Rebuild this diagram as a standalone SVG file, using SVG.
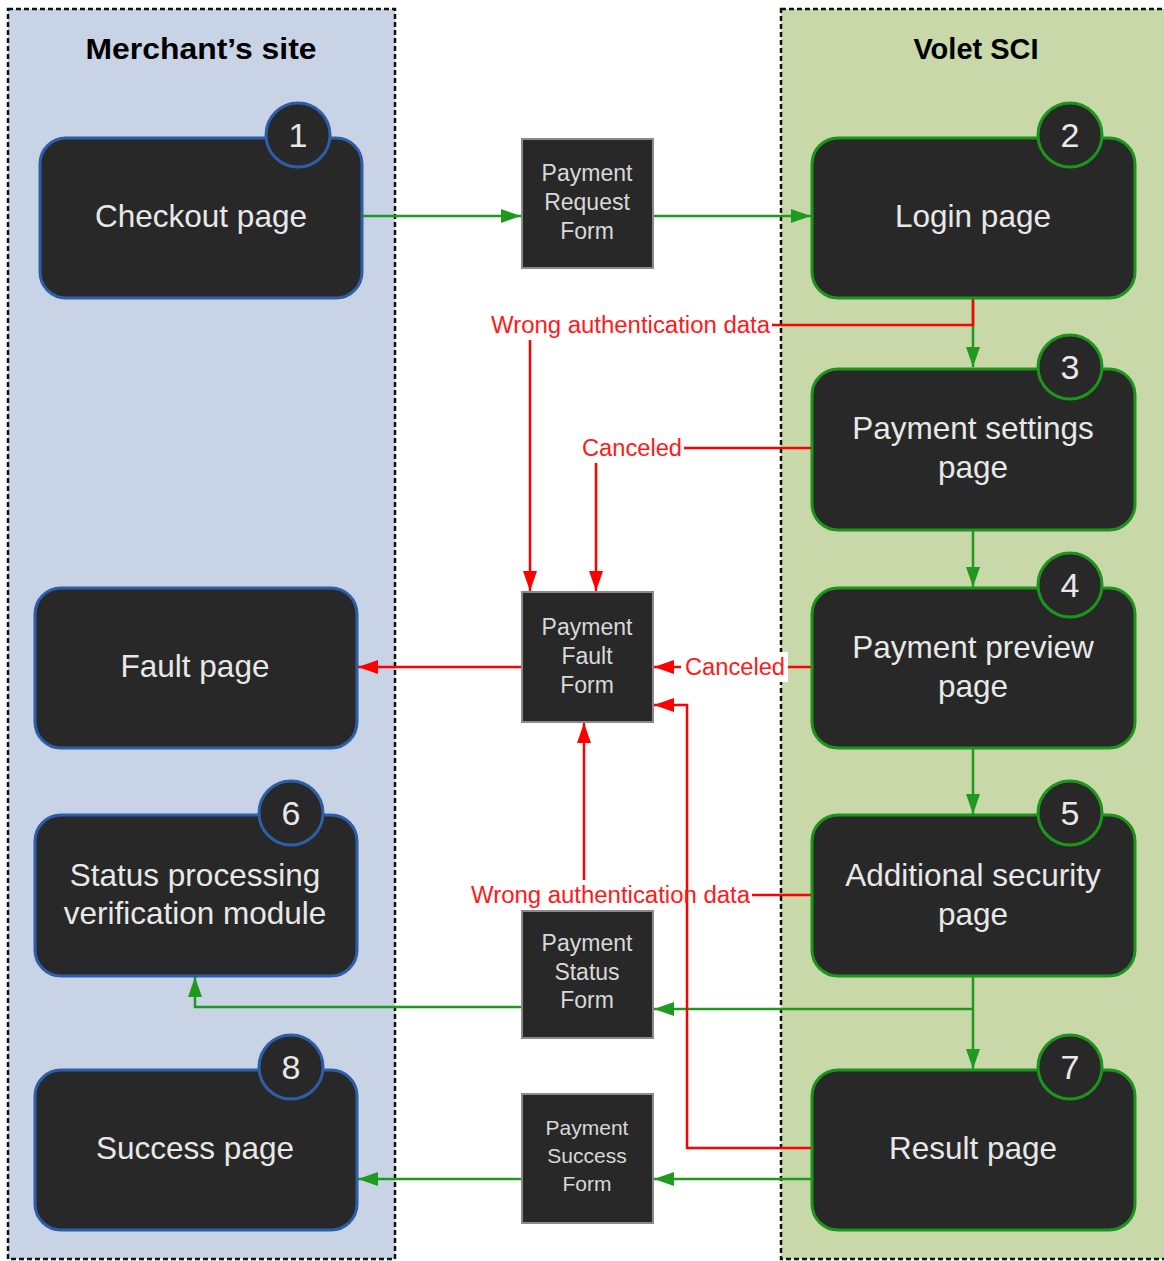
<svg xmlns="http://www.w3.org/2000/svg" width="1164" height="1261" viewBox="0 0 1164 1261">
<defs>
<style>
.panel{stroke:#111;stroke-width:2.5;stroke-dasharray:5 3}
.title{font-family:"Liberation Sans",Arial,sans-serif;font-weight:bold;font-size:29px;fill:#000;text-anchor:middle}
.node{fill:#282828;stroke-width:3}
.blue{stroke:#2d5ea8}
.green{stroke:#1b961b}
.ntext{font-family:"Liberation Sans",Arial,sans-serif;font-size:31.5px;fill:#e8e8e8;text-anchor:middle;dominant-baseline:central}
.num{font-family:"Liberation Sans",Arial,sans-serif;font-size:34px;fill:#e8e8e8;text-anchor:middle;dominant-baseline:central}
.form{fill:#282828;stroke:#8a8a8a;stroke-width:2}
.ftext{font-family:"Liberation Sans",Arial,sans-serif;font-size:23px;fill:#d8d8d8;text-anchor:middle;dominant-baseline:central}
.gline{fill:none;stroke:#1f9a1f;stroke-width:2.5}
.rline{fill:none;stroke:#ff0000;stroke-width:2.5}
.rlabel{font-family:"Liberation Sans",Arial,sans-serif;font-size:23.5px;fill:#ff1a1a;dominant-baseline:central}
</style>
<marker id="ag" viewBox="0 0 20 14" refX="20" refY="7" markerWidth="20" markerHeight="14" markerUnits="userSpaceOnUse" orient="auto"><path d="M0,0 L20,7 L0,14 z" fill="#1f9a1f"/></marker>
<marker id="ar" viewBox="0 0 20 14" refX="20" refY="7" markerWidth="20" markerHeight="14" markerUnits="userSpaceOnUse" orient="auto"><path d="M0,0 L20,7 L0,14 z" fill="#ff0000"/></marker>
</defs>
<rect width="1164" height="1261" fill="#ffffff"/>
<g id="panel-merchant">
<rect class="panel" x="8" y="9" width="387" height="1250" fill="#c8d3e6"/>
<text class="title" x="201" y="59" textLength="231" lengthAdjust="spacingAndGlyphs">Merchant’s site</text>
</g>
<g id="panel-volet">
<rect class="panel" x="781" y="9" width="400" height="1250" fill="#c9d8a9"/>
<text class="title" x="976" y="59">Volet SCI</text>
</g>
<g id="connectors">
<path class="gline" d="M362,216 L521,216" marker-end="url(#ag)"/>
<path class="gline" d="M653,216 L811,216" marker-end="url(#ag)"/>
<path class="gline" d="M973,298 L973,367" marker-end="url(#ag)"/>
<path class="gline" d="M973,530 L973,587" marker-end="url(#ag)"/>
<path class="gline" d="M973,748 L973,814" marker-end="url(#ag)"/>
<path class="gline" d="M973,976 L973,1069" marker-end="url(#ag)"/>
<path class="gline" d="M973,1009 L654,1009" marker-end="url(#ag)"/>
<path class="gline" d="M522,1007 L195,1007 L195,977" marker-end="url(#ag)"/>
<path class="gline" d="M812,1179 L654,1179" marker-end="url(#ag)"/>
<path class="gline" d="M528,1179 L358,1179" marker-end="url(#ag)"/>
<path class="rline" d="M973,298 L973,325 L772,325"/>
<path class="rline" d="M530,340 L530,591" marker-end="url(#ar)"/>
<path class="rline" d="M812,448 L684,448"/>
<path class="rline" d="M596,463 L596,591" marker-end="url(#ar)"/>
<path class="rline" d="M812,667 L788,667"/>
<path class="rline" d="M681,667 L654,667" marker-end="url(#ar)"/>
<path class="rline" d="M522,667 L358,667" marker-end="url(#ar)"/>
<path class="rline" d="M584,880 L584,723" marker-end="url(#ar)"/>
<path class="rline" d="M812,895 L752,895"/>
<path class="rline" d="M812,1148 L687,1148 L687,705 L654,705" marker-end="url(#ar)"/>
<text class="rlabel" x="491" y="325" textLength="279" lengthAdjust="spacingAndGlyphs">Wrong authentication data</text>
<text class="rlabel" x="582" y="448" textLength="100" lengthAdjust="spacingAndGlyphs">Canceled</text>
<rect x="681" y="652" width="107" height="30" fill="#ffffff"/>
<text class="rlabel" x="685" y="667" textLength="100" lengthAdjust="spacingAndGlyphs">Canceled</text>
<text class="rlabel" x="471" y="895" textLength="279" lengthAdjust="spacingAndGlyphs">Wrong authentication data</text>
</g>
<g id="node-checkout">
<rect class="node blue" x="40" y="138" width="322" height="160" rx="26"/>
<circle class="node blue" cx="298" cy="135" r="32"/>
<text class="num" x="298" y="135">1</text>
<text class="ntext" x="201" y="216">Checkout page</text>
</g>
<g id="node-login">
<rect class="node green" x="812" y="138" width="323" height="160" rx="26"/>
<circle class="node green" cx="1070" cy="135" r="32"/>
<text class="num" x="1070" y="135">2</text>
<text class="ntext" x="973" y="216">Login page</text>
</g>
<g id="node-settings">
<rect class="node green" x="812" y="369" width="323" height="161" rx="26"/>
<circle class="node green" cx="1070" cy="367" r="32"/>
<text class="num" x="1070" y="367">3</text>
<text class="ntext" x="973" y="428">Payment settings</text>
<text class="ntext" x="973" y="467">page</text>
</g>
<g id="node-preview">
<rect class="node green" x="812" y="588" width="323" height="160" rx="26"/>
<circle class="node green" cx="1070" cy="585" r="32"/>
<text class="num" x="1070" y="585">4</text>
<text class="ntext" x="973" y="647">Payment preview</text>
<text class="ntext" x="973" y="686">page</text>
</g>
<g id="node-security">
<rect class="node green" x="812" y="815" width="323" height="161" rx="26"/>
<circle class="node green" cx="1070" cy="813" r="32"/>
<text class="num" x="1070" y="813">5</text>
<text class="ntext" x="973" y="875">Additional security</text>
<text class="ntext" x="973" y="914">page</text>
</g>
<g id="node-result">
<rect class="node green" x="812" y="1070" width="323" height="160" rx="26"/>
<circle class="node green" cx="1070" cy="1067" r="32"/>
<text class="num" x="1070" y="1067">7</text>
<text class="ntext" x="973" y="1148">Result page</text>
</g>
<g id="node-fault">
<rect class="node blue" x="35" y="588" width="322" height="160" rx="26"/>
<text class="ntext" x="195" y="666">Fault page</text>
</g>
<g id="node-status">
<rect class="node blue" x="35" y="815" width="322" height="161" rx="26"/>
<circle class="node blue" cx="291" cy="813" r="32"/>
<text class="num" x="291" y="813">6</text>
<text class="ntext" x="195" y="875">Status processing</text>
<text class="ntext" x="195" y="913">verification module</text>
</g>
<g id="node-success">
<rect class="node blue" x="35" y="1070" width="322" height="160" rx="26"/>
<circle class="node blue" cx="291" cy="1067" r="32"/>
<text class="num" x="291" y="1067">8</text>
<text class="ntext" x="195" y="1148">Success page</text>
</g>
<g id="form-request">
<rect class="form" x="522" y="139" width="131" height="129"/>
<text class="ftext" x="587" y="173">Payment</text>
<text class="ftext" x="587" y="202">Request</text>
<text class="ftext" x="587" y="231">Form</text>
</g>
<g id="form-fault">
<rect class="form" x="522" y="592" width="131" height="130"/>
<text class="ftext" x="587" y="627">Payment</text>
<text class="ftext" x="587" y="656">Fault</text>
<text class="ftext" x="587" y="685">Form</text>
</g>
<g id="form-status">
<rect class="form" x="522" y="911" width="131" height="127"/>
<text class="ftext" x="587" y="943">Payment</text>
<text class="ftext" x="587" y="972">Status</text>
<text class="ftext" x="587" y="1000">Form</text>
</g>
<g id="form-success">
<rect class="form" x="522" y="1094" width="131" height="129"/>
<text class="ftext" x="587" y="1127" style="font-size:21px">Payment</text>
<text class="ftext" x="587" y="1155" style="font-size:21px">Success</text>
<text class="ftext" x="587" y="1183" style="font-size:21px">Form</text>
</g>
</svg>
